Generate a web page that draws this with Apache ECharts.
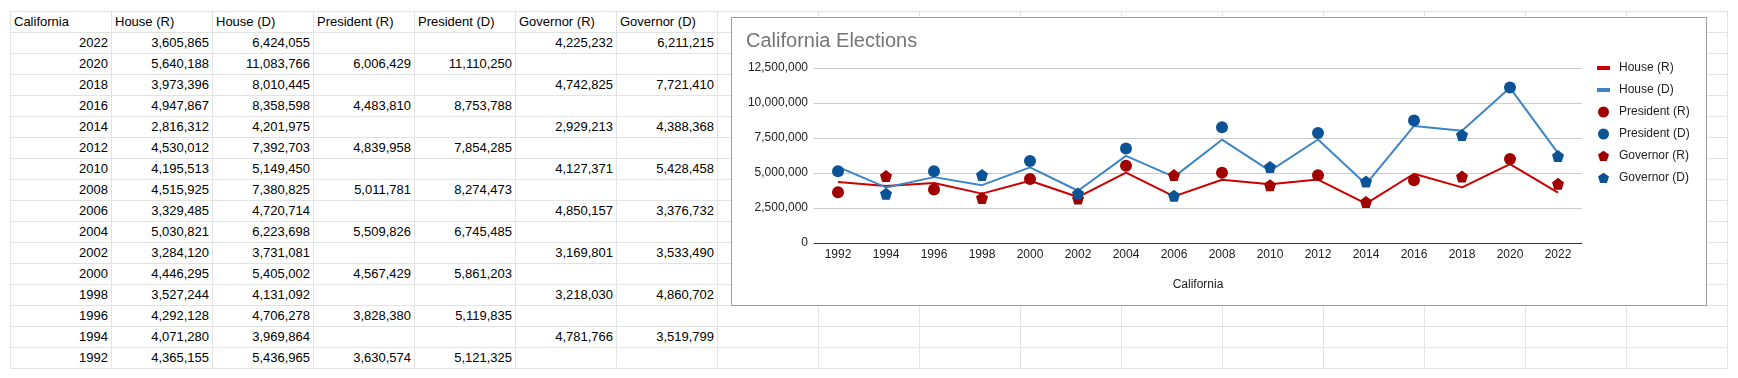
<!DOCTYPE html>
<html>
<head>
<meta charset="utf-8">
<script src="https://cdn.jsdelivr.net/npm/echarts@6/dist/echarts.min.js"></script>
<style>
  html, body { margin: 0; padding: 0; background: #fff; width: 1738px; height: 378px; overflow: hidden; }
  body { position: relative; font-family: Arial, "Liberation Sans", sans-serif; }
  .vl { position: absolute; width: 1px; background: #e2e3e3; }
  .hl { position: absolute; height: 1px; background: #e2e3e3; }
  .cell { position: absolute; height: 21px; line-height: 21px; font-size: 13px; color: #000; white-space: nowrap; overflow: hidden; box-sizing: border-box; }
  #frame { position: absolute; left: 731px; top: 17px; width: 976px; height: 289px; box-sizing: border-box; border: 1px solid #9e9e9e; background: #fff; }
  #chart { position: absolute; left: 0; top: 0; width: 974px; height: 287px; }
</style>
</head>
<body>
<div id="sheet"></div>
<div id="frame"><div id="chart"></div></div>
<script>
// ---- data (chronological order) ----
const years = ['1992','1994','1996','1998','2000','2002','2004','2006','2008','2010','2012','2014','2016','2018','2020','2022'];
const houseR = [4365155, 4071280, 4292128, 3527244, 4446295, 3284120, 5030821, 3329485, 4515925, 4195513, 4530012, 2816312, 4947867, 3973396, 5640188, 3605865];
const houseD = [5436965, 3969864, 4706278, 4131092, 5405002, 3731081, 6223698, 4720714, 7380825, 5149450, 7392703, 4201975, 8358598, 8010445, 11083766, 6424055];
const presR  = [3630574, null, 3828380, null, 4567429, null, 5509826, null, 5011781, null, 4839958, null, 4483810, null, 6006429, null];
const presD  = [5121325, null, 5119835, null, 5861203, null, 6745485, null, 8274473, null, 7854285, null, 8753788, null, 11110250, null];
const govR   = [null, 4781766, null, 3218030, null, 3169801, null, 4850157, null, 4127371, null, 2929213, null, 4742825, null, 4225232];
const govD   = [null, 3519799, null, 4860702, null, 3533490, null, 3376732, null, 5428458, null, 4388368, null, 7721410, null, 6211215];
const headers = ['California', 'House (R)', 'House (D)', 'President (R)', 'President (D)', 'Governor (R)', 'Governor (D)'];
const seriesNames = ['House (R)', 'House (D)', 'President (R)', 'President (D)', 'Governor (R)', 'Governor (D)'];
const yTicks = [0, 2500000, 5000000, 7500000, 10000000, 12500000];

// ---- spreadsheet grid ----
const X0 = 10, Y0 = 11, CW = 101, RH = 21, NC = 17, NR = 17;
const sheet = document.getElementById('sheet');
for (let c = 0; c <= NC; c++) {
  const d = document.createElement('div');
  d.className = 'vl';
  d.style.left = (X0 + c * CW) + 'px'; d.style.top = Y0 + 'px'; d.style.height = (NR * RH + 1) + 'px';
  sheet.appendChild(d);
}
for (let r = 0; r <= NR; r++) {
  const d = document.createElement('div');
  d.className = 'hl';
  d.style.top = (Y0 + r * RH) + 'px'; d.style.left = X0 + 'px'; d.style.width = (NC * CW + 1) + 'px';
  sheet.appendChild(d);
}
function addCell(r, c, text, right) {
  const d = document.createElement('div');
  d.className = 'cell';
  d.style.left = (X0 + c * CW + 1) + 'px';
  d.style.top = (Y0 + r * RH) + 'px';
  d.style.width = (CW - 1) + 'px';
  if (right) { d.style.textAlign = 'right'; d.style.paddingRight = '3px'; }
  else { d.style.textAlign = 'left'; d.style.paddingLeft = '3px'; }
  d.textContent = text;
  sheet.appendChild(d);
}
const fmt = v => (v == null ? '' : v.toLocaleString('en-US'));
headers.forEach((h, c) => addCell(0, c, h, false));
const cols = [houseR, houseD, presR, presD, govR, govD];
for (let i = years.length - 1, r = 1; i >= 0; i--, r++) {
  addCell(r, 0, years[i], true);
  cols.forEach((arr, c) => { if (arr[i] != null) addCell(r, c + 1, fmt(arr[i]), true); });
}

// ---- chart ----
const RED_LINE = '#cc0000', BLUE_LINE = '#3d85c6', RED_DOT = '#a10000', BLUE_DOT = '#0b5394';
const pentagon = 'path://M0,-1 L0.951,-0.309 L0.588,0.809 L-0.588,0.809 L-0.951,-0.309 Z';
const iconBar = 'path://M0,0 M17,12 M0,4 L13,4 L13,8 L0,8 Z';
const iconCircle = 'path://M0,0 M17,12 M1,6 A5.5,5.5 0 1,1 12,6 A5.5,5.5 0 1,1 1,6 Z';
const iconPent = 'path://M0,0 M17,12 M6.5,0.7 L12,4.6 L9.9,11 L3.1,11 L1,4.6 Z';
const toData = arr => arr.map(v => (v == null ? '-' : v));

const chart = echarts.init(document.getElementById('chart'), null, { renderer: 'canvas' });
chart.setOption({
  animation: false,
  textStyle: { fontFamily: 'Arial, "Liberation Sans", sans-serif' },
  title: {
    text: 'California Elections', left: 14, top: 13, padding: 0,
    textStyle: { fontSize: 20, fontWeight: 'normal', color: '#757575', fontFamily: 'Arial, "Liberation Sans", sans-serif' }
  },
  legend: {
    orient: 'vertical', left: 865, top: 44, padding: 0,
    itemWidth: 17, itemHeight: 12, itemGap: 10,
    itemStyle: { borderWidth: 0 },
    textStyle: { fontSize: 12, color: '#222', fontFamily: 'Arial, "Liberation Sans", sans-serif' },
    data: [
      { name: seriesNames[0], icon: iconBar, itemStyle: { color: RED_LINE, borderWidth: 0 } },
      { name: seriesNames[1], icon: iconBar, itemStyle: { color: BLUE_LINE, borderWidth: 0 } },
      { name: seriesNames[2], icon: iconCircle, itemStyle: { color: RED_DOT, borderWidth: 0 } },
      { name: seriesNames[3], icon: iconCircle, itemStyle: { color: BLUE_DOT, borderWidth: 0 } },
      { name: seriesNames[4], icon: iconPent, itemStyle: { color: RED_DOT, borderWidth: 0 } },
      { name: seriesNames[5], icon: iconPent, itemStyle: { color: BLUE_DOT, borderWidth: 0 } }
    ]
  },
  grid: { left: 82, top: 50, width: 768, height: 175, containLabel: false },
  xAxis: {
    type: 'category', data: years, boundaryGap: true,
    name: 'California', nameLocation: 'middle', nameGap: 36,
    nameTextStyle: { fontSize: 12, color: '#222' },
    axisLine: { show: true, lineStyle: { color: '#333', width: 1 } },
    axisTick: { show: false },
    axisLabel: { fontSize: 12, color: '#222', margin: 6, interval: 0 },
    splitLine: { show: false }
  },
  yAxis: {
    type: 'value', min: yTicks[0], max: yTicks[yTicks.length - 1], interval: yTicks[1] - yTicks[0],
    axisLine: { show: false }, axisTick: { show: false },
    axisLabel: { fontSize: 12, color: '#222', margin: 6, formatter: v => v.toLocaleString('en-US') },
    splitLine: { show: true, lineStyle: { color: '#cccccc', width: 1 } }
  },
  series: [
    { name: seriesNames[0], type: 'line', data: houseR, symbol: 'none', showSymbol: false,
      lineStyle: { color: RED_LINE, width: 2 }, itemStyle: { color: RED_LINE }, z: 2 },
    { name: seriesNames[1], type: 'line', data: houseD, symbol: 'none', showSymbol: false,
      lineStyle: { color: BLUE_LINE, width: 2 }, itemStyle: { color: BLUE_LINE }, z: 2 },
    { name: seriesNames[2], type: 'scatter', data: toData(presR), symbol: 'circle', symbolSize: 12,
      itemStyle: { color: RED_DOT, opacity: 1 }, z: 3 },
    { name: seriesNames[3], type: 'scatter', data: toData(presD), symbol: 'circle', symbolSize: 12,
      itemStyle: { color: BLUE_DOT, opacity: 1 }, z: 3 },
    { name: seriesNames[4], type: 'scatter', data: toData(govR), symbol: pentagon, symbolSize: 12,
      itemStyle: { color: RED_DOT, opacity: 1 }, z: 3 },
    { name: seriesNames[5], type: 'scatter', data: toData(govD), symbol: pentagon, symbolSize: 12,
      itemStyle: { color: BLUE_DOT, opacity: 1 }, z: 3 }
  ]
});
</script>
</body>
</html>
